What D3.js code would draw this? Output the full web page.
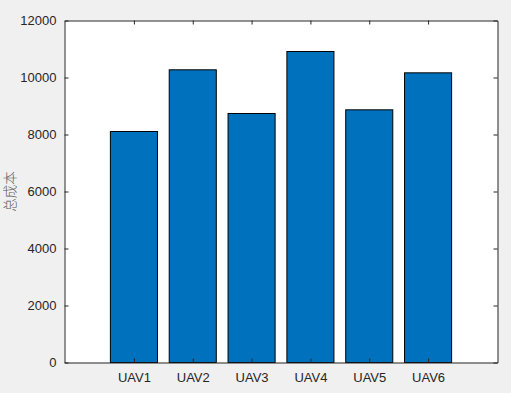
<!DOCTYPE html>
<html><head><meta charset="utf-8">
<script src="https://cdn.jsdelivr.net/npm/d3@7"></script>
<style>html,body{margin:0;padding:0;background:#f0f0f0;}</style>
</head><body>
<script>
const categories = ["UAV1","UAV2","UAV3","UAV4","UAV5","UAV6"];
const values = [8105, 10270, 8737, 10912, 8866, 10164];
const yTicks = [0,2000,4000,6000,8000,10000,12000];
const yLabel = "总成本";

const W = 511, H = 393;
const L = 64.5, R = 497.5, T = 20.5, B = 362.5;
const svg = d3.select("body").append("svg").attr("width", W).attr("height", H)
  .style("display","block");
svg.append("rect").attr("width",W).attr("height",H).attr("fill","#f0f0f0");

const x = d3.scaleLinear().domain([-0.18, 7.18]).range([L, R]);
const y = d3.scaleLinear().domain([0, 12000]).range([B, T]);
const bw = x(0.8) - x(0);

svg.append("rect").attr("x",L).attr("y",T).attr("width",R-L).attr("height",B-T).attr("fill","#fff");

svg.selectAll("rect.bar").data(values).enter().append("rect").attr("class","bar")
  .attr("x",(d,i)=>x(i+1)-bw/2).attr("y",d=>y(d))
  .attr("width",bw).attr("height",d=>y(0)-y(d))
  .attr("fill","#0072BD").attr("stroke","#000").attr("stroke-width",1);

const ax = "#262626";
const font = "'Liberation Sans', Arial, sans-serif";
const pos = categories.map((c,i)=>i+1);

const xb = svg.append("g").attr("transform",`translate(0,${B})`)
  .call(d3.axisBottom(x).tickValues(pos).tickFormat((d,i)=>categories[i]).tickSizeInner(-4).tickSizeOuter(0).tickPadding(10));
const xt = svg.append("g").attr("transform",`translate(0,${T})`)
  .call(d3.axisTop(x).tickValues(pos).tickFormat("").tickSizeInner(-4).tickSizeOuter(0));
const yl = svg.append("g").attr("transform",`translate(${L},0)`)
  .call(d3.axisLeft(y).tickValues(yTicks).tickFormat(d3.format("d")).tickSizeInner(-4).tickSizeOuter(0).tickPadding(8));
const yr = svg.append("g").attr("transform",`translate(${R},0)`)
  .call(d3.axisRight(y).tickValues(yTicks).tickFormat("").tickSizeInner(-4).tickSizeOuter(0));

[xb,xt,yl,yr].forEach(g=>{
  g.select(".domain").attr("stroke",ax).attr("stroke-width",1);
  g.selectAll(".tick line").attr("stroke",ax).attr("stroke-width",1);
  g.selectAll("text").attr("fill",ax).style("font-family",font).style("font-size","13px");
});

svg.append("text").attr("transform",`translate(15,${(T+B)/2}) rotate(-90)`)
  .attr("text-anchor","middle").attr("fill","#555")
  .style("font-family","'Noto Sans CJK SC', sans-serif").style("font-size","13.5px")
  .style("font-weight","300")
  .text(yLabel);
</script>
</body></html>
